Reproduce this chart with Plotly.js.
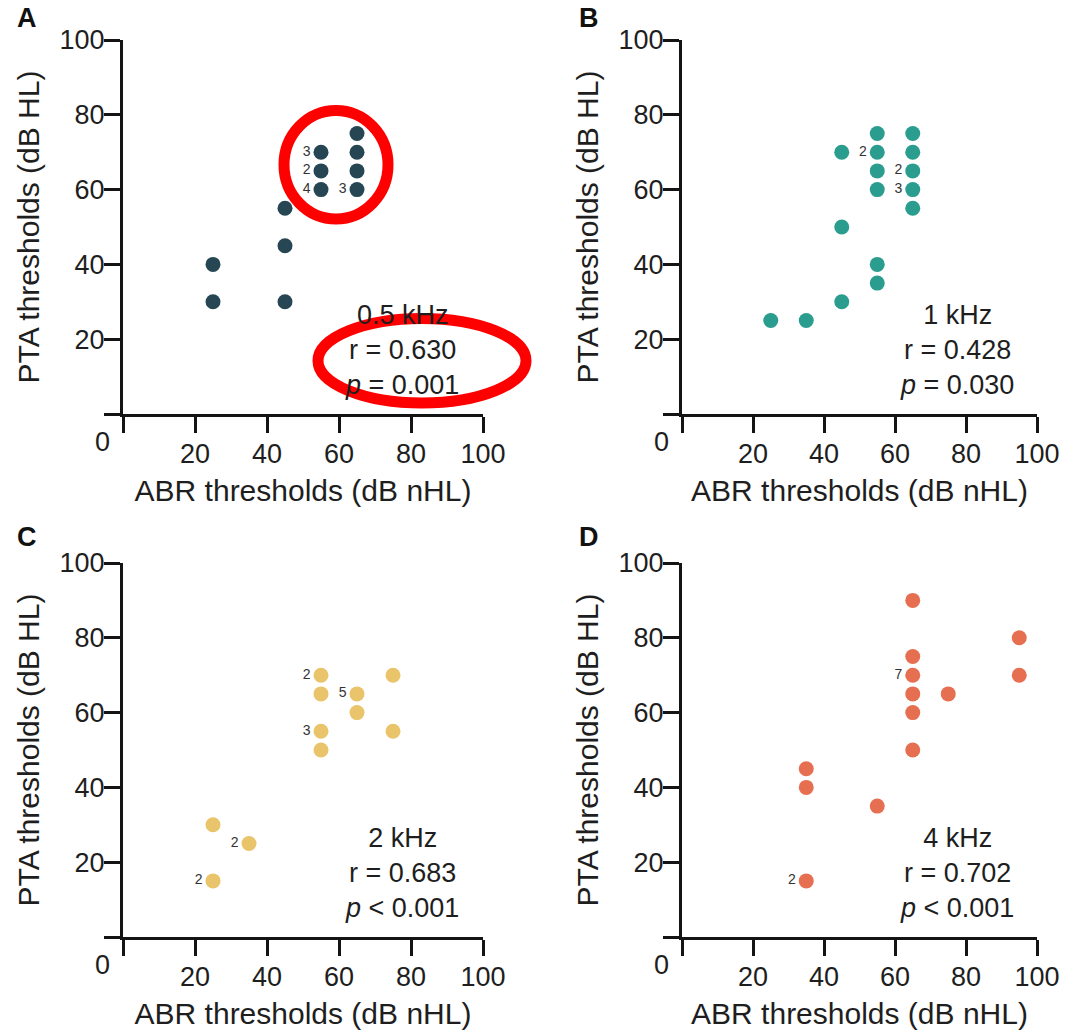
<!DOCTYPE html>
<html>
<head>
<meta charset="utf-8">
<script src="https://cdn.plot.ly/plotly-3.0.1.min.js"></script>
<style>html,body{margin:0;padding:0;background:#fff;}#chart{width:1087px;height:1035px;}</style>
</head>
<body>
<div id="chart"></div>
<script>
// ---- Data ----
const panelLetters = ['A', 'B', 'C', 'D'];
const freqLabels = ['0.5 kHz', '1 kHz', '2 kHz', '4 kHz'];
const rValues = ['0.630', '0.428', '0.683', '0.702'];
const pValues = ['= 0.001', '= 0.030', '< 0.001', '< 0.001'];
const tickVals = [0, 20, 40, 60, 80, 100];
const tickText = ['', '20', '40', '60', '80', '100'];
const xTitle = 'ABR thresholds (dB nHL)';
const yTitle = 'PTA thresholds (dB HL)';

// 0.5 kHz
const abrA = [25, 25, 45, 45, 45, 55, 55, 55, 65, 65, 65, 65];
const ptaA = [40, 30, 55, 45, 30, 70, 65, 60, 75, 70, 65, 60];
const nA   = ['', '', '', '', '', '3', '2', '4', '', '', '', '3'];
// 1 kHz
const abrB = [25, 35, 45, 45, 45, 55, 55, 55, 55, 55, 55, 65, 65, 65, 65, 65];
const ptaB = [25, 25, 70, 50, 30, 75, 70, 65, 60, 40, 35, 75, 70, 65, 60, 55];
const nB   = ['', '', '', '', '', '', '2', '', '', '', '', '', '', '2', '3', ''];
// 2 kHz
const abrC = [25, 25, 35, 55, 55, 55, 55, 65, 65, 75, 75];
const ptaC = [30, 15, 25, 70, 65, 55, 50, 65, 60, 70, 55];
const nC   = ['', '2', '2', '2', '', '3', '', '5', '', '', ''];
// 4 kHz
const abrD = [35, 35, 35, 55, 65, 65, 65, 65, 65, 65, 75, 95, 95];
const ptaD = [45, 40, 15, 35, 90, 75, 70, 65, 60, 50, 65, 80, 70];
const nD   = ['', '', '2', '', '', '', '7', '', '', '', '', '', ''];

const colors = ['#264653', '#2a9d8f', '#e9c46a', '#e76f51'];
const xs = [abrA, abrB, abrC, abrD];
const ys = [ptaA, ptaB, ptaC, ptaD];
const ns = [nA, nB, nC, nD];

// ---- Layout geometry (pixels) ----
const W = 1087, H = 1035;
const colX = [[123, 483], [682, 1037]];
const rowY = [[40, 414], [563, 937]];
const FONT = 'Liberation Sans, Arial, Helvetica, sans-serif';
const INK = '#141414';
const TXT = '#1e1e1e';

const traces = [];
const layout = {
  width: W, height: H,
  margin: {l: 0, r: 0, t: 0, b: 0, pad: 0},
  paper_bgcolor: '#ffffff', plot_bgcolor: '#ffffff',
  showlegend: false,
  font: {family: FONT, color: TXT},
  annotations: [], shapes: []
};

for (let i = 0; i < 4; i++) {
  const col = i % 2, row = Math.floor(i / 2);
  const sfx = i === 0 ? '' : String(i + 1);
  const oSfx = String(i + 5);
  const xd = [colX[col][0] / W, colX[col][1] / W];
  const yd = [1 - rowY[row][1] / H, 1 - rowY[row][0] / H];

  traces.push({
    type: 'scatter', mode: 'markers+text',
    x: xs[i], y: ys[i], text: ns[i],
    textposition: 'middle left',
    textfont: {family: FONT, size: 14, color: '#333333'},
    marker: {size: 15, color: colors[i], line: {width: 0}},
    cliponaxis: false,
    xaxis: 'x' + sfx, yaxis: 'y' + sfx, hoverinfo: 'x+y'
  });

  const common = {
    range: [0, 100], showgrid: false, zeroline: false,
    showline: true, linewidth: 3, linecolor: INK,
    ticks: 'outside', ticklen: 16, tickwidth: 3, tickcolor: INK,
    tickvals: tickVals, ticktext: tickText,
    tickfont: {family: FONT, size: 27, color: TXT},
    fixedrange: true
  };
  layout['xaxis' + sfx] = Object.assign({}, common, {
    domain: xd, anchor: 'y' + sfx, ticklabelstandoff: -2,
    title: {text: xTitle, font: {family: FONT, size: 30, color: TXT}, standoff: 12}
  });
  layout['yaxis' + sfx] = Object.assign({}, common, {
    domain: yd, anchor: 'x' + sfx, ticklabelstandoff: -6,
    title: {text: yTitle, font: {family: FONT, size: 30, color: TXT}, standoff: 12}
  });
  // mirrored top / right frame with small inward ticks
  const mirror = {
    range: [0, 100], showgrid: false, zeroline: false,
    showline: true, linewidth: 3, linecolor: INK,
    ticks: 'inside', ticklen: 5, tickwidth: 2.5, tickcolor: INK,
    tickvals: [20, 40, 60, 80], showticklabels: false, fixedrange: true
  };
  layout['xaxis' + oSfx] = Object.assign({}, mirror, {overlaying: 'x' + sfx, anchor: 'y' + sfx, side: 'top'});
  layout['yaxis' + oSfx] = Object.assign({}, mirror, {overlaying: 'y' + sfx, anchor: 'x' + sfx, side: 'right'});

  // corner "0"
  layout.annotations.push({
    xref: 'x' + sfx + ' domain', yref: 'y' + sfx + ' domain',
    x: -0.058, y: -0.075, xanchor: 'center', yanchor: 'middle',
    text: '0', showarrow: false, font: {family: FONT, size: 27, color: TXT}
  });
  // panel letter
  layout.annotations.push({
    xref: 'paper', yref: 'paper',
    x: (col === 0 ? 27 : 589) / W, y: 1 - (row === 0 ? 18 : 537) / H,
    xanchor: 'center', yanchor: 'middle',
    text: '<b>' + panelLetters[i] + '</b>', showarrow: false,
    font: {family: FONT, size: 27, color: '#111111'}
  });
  // stats block
  layout.annotations.push({
    xref: 'x' + sfx, yref: 'y' + sfx,
    x: 77.5, y: 17.2, xanchor: 'center', yanchor: 'middle', align: 'center',
    text: freqLabels[i] + '<br>r = ' + rValues[i] + '<br><i>p</i> ' + pValues[i],
    showarrow: false, font: {family: FONT, size: 27, color: TXT}
  });
}

// red hand-drawn highlight ellipses over panel A
layout.shapes.push({
  type: 'circle', xref: 'paper', yref: 'paper', layer: 'above',
  x0: 284 / W, x1: 388 / W, y0: 1 - 219 / H, y1: 1 - 110.5 / H,
  line: {color: '#ff0000', width: 11}
});
layout.shapes.push({
  type: 'circle', xref: 'paper', yref: 'paper', layer: 'above',
  x0: 318 / W, x1: 526 / W, y0: 1 - 403 / H, y1: 1 - 318.5 / H,
  line: {color: '#ff0000', width: 11}
});

Plotly.newPlot('chart', traces, layout, {staticPlot: true, displayModeBar: false});
</script>
</body>
</html>
